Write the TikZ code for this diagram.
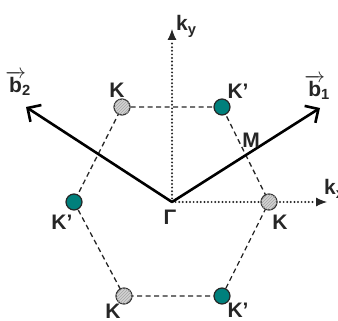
\documentclass[tikz,border=0pt]{standalone}
\usepackage{fontspec}
\setmainfont{Liberation Sans}
\usetikzlibrary{arrows.meta,patterns}
\definecolor{tealdot}{RGB}{0,128,124}
\newcommand{\vecb}{\makebox[0.62em][c]{$\overrightarrow{\mbox{\bfseries b}}$}}
\begin{document}
\begin{tikzpicture}[x=1pt,y=-1pt,
  lbl/.style={font=\bfseries\fontsize{21}{23}\selectfont, text=black!85, inner sep=0pt},
  hexedge/.style={dashed, dash pattern=on 5pt off 3.5pt, line width=1.3pt, black!85},
  axisline/.style={line width=2.2pt, dash pattern=on 0pt off 3.6pt, line cap=round, black!85},
  axistip/.style={-{Latex[length=11pt,width=9pt]}, line width=1pt, black!85},
  vecline/.style={line width=2.6pt, black, -{Straight Barb[length=10pt,width=20pt,line width=2.6pt]}},
  kdot/.style={circle, draw=black!80, line width=1.2pt, minimum size=16pt, inner sep=0pt, fill=gray!35, postaction={pattern=north east lines, pattern color=gray!70}},
  kpdot/.style={circle, draw=black!85, line width=1.2pt, minimum size=16pt, inner sep=0pt, fill=tealdot}]
\useasboundingbox (0,0) rectangle (338,321);
\coordinate (G) at (172,202);
\coordinate (kxend) at (327,202);
\coordinate (kxtip) at (316,202);
\coordinate (kyend) at (172,29);
\coordinate (kytip) at (172,40);
\coordinate (b1end) at (320,108);
\coordinate (b2end) at (26,107);
% hexagon
\coordinate (v1) at (122,107);
\coordinate (v2) at (222,107);
\coordinate (v3) at (269,202);
\coordinate (v4) at (222,296);
\coordinate (v5) at (124,296);
\coordinate (v6) at (74,202);
\draw[hexedge] (v1) -- (v2) -- (v3) -- (v4) -- (v5) -- (v6) -- cycle;
% axes
\draw[axisline] (G) -- (kxtip);
\draw[axistip] (kxtip) -- (kxend);
\draw[axisline] (G) -- (kytip);
\draw[axistip] (kytip) -- (kyend);
% vectors
\draw[vecline] (G) -- (b1end);
\draw[vecline] (G) -- (b2end);
% points
\node[kdot] (K1) at (v1) {};
\node[kpdot] (Kp1) at (v2) {};
\node[kdot] (K2) at (v3) {};
\node[kpdot] (Kp2) at (v4) {};
\node[kdot] (K3) at (v5) {};
\node[kpdot] (Kp3) at (v6) {};
% labels
\node[lbl] (lK1) at (117,90) {K};
\node[lbl] (lKp1) at (238,91) {K’};
\node[lbl] (lK2) at (280,222) {K};
\node[lbl] (lKp2) at (238,310) {K’};
\node[lbl] (lK3) at (113,311) {K};
\node[lbl] (lKp3) at (62,222) {K’};
\node[lbl] (lM) at (251,140) {M};
\node[lbl] (lG) at (170,217) {Γ};
\node[lbl, anchor=base west] (lky) at (176,31) {k\textsubscript{y}};
\node[lbl, anchor=base west] (lkx) at (324,195) {k\textsubscript{x}};
\node[lbl] (lb1) at (319,87) {\vecb\textsubscript{1}};
\node[lbl] (lb2) at (20,83) {\vecb\textsubscript{2}};
\end{tikzpicture}
\end{document}
